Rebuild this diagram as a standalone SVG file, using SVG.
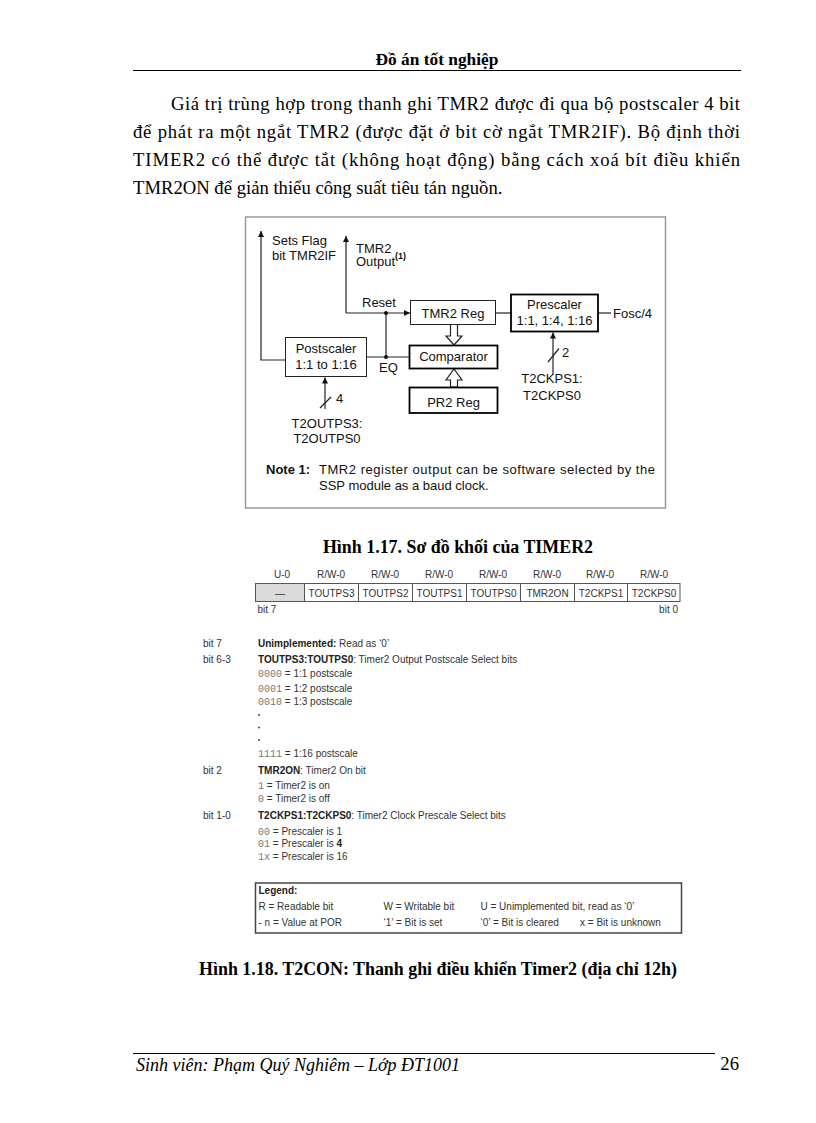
<svg xmlns="http://www.w3.org/2000/svg" width="816" height="1123" viewBox="0 0 816 1123">
<defs>
<style>
.t{font-family:"Liberation Serif","Times New Roman",serif;font-size:18.67px;fill:#000}
.tb{font-family:"Liberation Serif","Times New Roman",serif;font-size:17.33px;font-weight:bold;fill:#000}
.cap{font-size:17.9px}
.ti{font-family:"Liberation Serif","Times New Roman",serif;font-size:18px;font-style:italic;fill:#000}
.d{font-family:"Liberation Sans",Arial,sans-serif;font-size:13px;fill:#111}
.c{text-anchor:middle}
.r{font-family:"Liberation Sans",Arial,sans-serif;font-size:10px;fill:#333}
.m{font-family:"Liberation Mono","Courier New",monospace;font-size:10px;fill:#777}
.b{font-weight:bold;fill:#222}
.box{fill:#fff;stroke:#222;stroke-width:1}
.boxk{fill:#fff;stroke:#000;stroke-width:1.8}
.ln{fill:none;stroke:#222;stroke-width:1.2}
</style>
<marker id="ah" viewBox="0 0 10 10" refX="10" refY="5" markerWidth="7" markerHeight="6" markerUnits="userSpaceOnUse" orient="auto"><path d="M0,0 L10,5 L0,10 z" fill="#111"/></marker>
</defs>
<rect width="816" height="1123" fill="#fff"/>

<!-- header -->
<g id="header">
<text class="tb c" x="437" y="65">Đồ án tốt nghiệp</text>
<line x1="133" y1="70.5" x2="741" y2="70.5" stroke="#000" stroke-width="1.2"/>
</g>

<!-- paragraph -->
<g id="paragraph">
<text class="t" x="171" y="110" textLength="569" lengthAdjust="spacing">Giá trị trùng hợp trong thanh ghi TMR2 được đi qua bộ postscaler 4 bit</text>
<text class="t" x="133" y="138" textLength="607" lengthAdjust="spacing">để phát ra một ngắt TMR2 (được đặt ở bit cờ ngắt TMR2IF). Bộ định thời</text>
<text class="t" x="133" y="166" textLength="607" lengthAdjust="spacing">TIMER2 có thể được tắt (không hoạt động) bằng cách xoá bít điều khiển</text>
<text class="t" x="133" y="194">TMR2ON để giản thiểu công suất tiêu tán nguồn.</text>
</g>

<!-- figure frame -->
<rect id="frame" x="245.5" y="217" width="420" height="291" fill="none" stroke="#999" stroke-width="1.5"/>

<g id="connectors">
<path class="ln" d="M285,360 H261 V231" marker-end="url(#ah)"/>
<path class="ln" d="M346,313 V236" marker-end="url(#ah)"/>
<path class="ln" d="M346,313 H410" marker-end="url(#ah)"/>
<path class="ln" d="M386,313 V357"/>
<path class="ln" d="M367,357 H409"/>
<path class="ln" d="M496,313 H511"/>
<path class="ln" d="M598,313 H611"/>
<path class="ln" d="M325,409 V377.5" marker-end="url(#ah)"/>
<path class="ln" d="M320,408 L331,397"/>
<path class="ln" d="M553,375 V332.5" marker-end="url(#ah)"/>
<path class="ln" d="M548,362 L559,348.5"/>
<circle cx="386" cy="313" r="2" fill="#111"/>
<circle cx="386" cy="357" r="2" fill="#111"/>
<polygon points="450.5,324.5 457.5,324.5 457.5,336 462,336 454,345 446,336 450.5,336" fill="#fff" stroke="#222" stroke-width="1.2"/>
<polygon points="450.5,387 457.5,387 457.5,380 462,380 454,369 446,380 450.5,380" fill="#fff" stroke="#222" stroke-width="1.2"/>
</g>

<g id="lbl-setsflag">
<text class="d" x="272" y="245">Sets Flag</text>
<text class="d" x="272" y="260">bit TMR2IF</text>
</g>
<g id="lbl-output">
<text class="d" x="356" y="253">TMR2</text>
<text class="d" x="356" y="266">Output<tspan font-size="9" font-weight="bold" dy="-7">(1)</tspan></text>
</g>
<text class="d" x="362" y="307">Reset</text>
<text class="d" x="379" y="372">EQ</text>
<text class="d" x="613" y="318">Fosc/4</text>

<g id="tmr2reg">
<rect class="box" x="410.5" y="300.5" width="85" height="24"/>
<text class="d c" x="453" y="318">TMR2 Reg</text>
</g>
<g id="prescaler">
<rect class="boxk" x="511" y="294.5" width="87" height="37"/>
<text class="d c" x="554.5" y="308.5">Prescaler</text>
<text class="d c" x="554.5" y="325">1:1, 1:4, 1:16</text>
</g>
<g id="comparator">
<rect class="boxk" x="409.5" y="345.5" width="88" height="23"/>
<text class="d c" x="453.5" y="361">Comparator</text>
</g>
<g id="pr2reg">
<rect class="boxk" x="409.5" y="387.5" width="88" height="25.5"/>
<text class="d c" x="453.5" y="407">PR2 Reg</text>
</g>
<g id="postscaler">
<rect class="box" x="285.5" y="337.5" width="81" height="39"/>
<text class="d c" x="326" y="353">Postscaler</text>
<text class="d c" x="326" y="369">1:1 to 1:16</text>
</g>
<g id="lbl-4">
<text class="d" x="336" y="403">4</text>
<text class="d c" x="327" y="428">T2OUTPS3:</text>
<text class="d c" x="327" y="443">T2OUTPS0</text>
</g>
<g id="lbl-2">
<text class="d" x="562" y="357">2</text>
<text class="d c" x="552" y="383">T2CKPS1:</text>
<text class="d c" x="552" y="400">T2CKPS0</text>
</g>
<g id="note">
<text class="d" x="266" y="474" font-weight="bold">Note 1:</text>
<text class="d" x="319" y="474" textLength="336" lengthAdjust="spacing">TMR2 register output can be software selected by the</text>
<text class="d" x="319" y="490">SSP module as a baud clock.</text>
</g>

<text class="tb cap c" x="458" y="553">Hình 1.17. Sơ đồ khối của TIMER2</text>

<!-- register table -->
<g id="register">
<text class="r c" x="282" y="578">U-0</text>
<text class="r c" x="331" y="578">R/W-0</text>
<text class="r c" x="385" y="578">R/W-0</text>
<text class="r c" x="439" y="578">R/W-0</text>
<text class="r c" x="493" y="578">R/W-0</text>
<text class="r c" x="547" y="578">R/W-0</text>
<text class="r c" x="600" y="578">R/W-0</text>
<text class="r c" x="654" y="578">R/W-0</text>
<rect x="255.5" y="583.5" width="49" height="18" fill="#dadada"/>
<rect x="255.5" y="583.5" width="424.5" height="18" fill="none" stroke="#555" stroke-width="1"/>
<path d="M304.5,583.5 V601.5 M358.5,583.5 V601.5 M412.5,583.5 V601.5 M466.5,583.5 V601.5 M520.5,583.5 V601.5 M574.5,583.5 V601.5 M627.5,583.5 V601.5" stroke="#555" stroke-width="1" fill="none"/>
<text class="r c" x="280" y="597">—</text>
<text class="r c" x="331.5" y="596.5">TOUTPS3</text>
<text class="r c" x="385.5" y="596.5">TOUTPS2</text>
<text class="r c" x="439.5" y="596.5">TOUTPS1</text>
<text class="r c" x="493.5" y="596.5">TOUTPS0</text>
<text class="r c" x="547.5" y="596.5">TMR2ON</text>
<text class="r c" x="601" y="596.5">T2CKPS1</text>
<text class="r c" x="654" y="596.5">T2CKPS0</text>
<text class="r" x="257.5" y="613">bit 7</text>
<text class="r" x="678" y="613" text-anchor="end">bit 0</text>
</g>

<!-- bit descriptions -->
<g id="bits">
<text class="r" x="203" y="647">bit 7</text>
<text class="r" x="258" y="647"><tspan class="b">Unimplemented:</tspan> Read as ‘0’</text>
<text class="r" x="203" y="662.5">bit 6-3</text>
<text class="r" x="258" y="662.5"><tspan class="b">TOUTPS3:TOUTPS0</tspan>: Timer2 Output Postscale Select bits</text>
<text class="r" x="258" y="677"><tspan class="m">0000</tspan> = 1:1 postscale</text>
<text class="r" x="258" y="691.5"><tspan class="m">0001</tspan> = 1:2 postscale</text>
<text class="r" x="258" y="704.5"><tspan class="m">0010</tspan> = 1:3 postscale</text>
<circle cx="259" cy="715" r="1" fill="#444"/>
<circle cx="259" cy="727.5" r="1" fill="#444"/>
<circle cx="259" cy="740" r="1" fill="#444"/>
<text class="r" x="258" y="757"><tspan class="m">1111</tspan> = 1:16 postscale</text>
<text class="r" x="203" y="773.5">bit 2</text>
<text class="r" x="258" y="773.5"><tspan class="b">TMR2ON</tspan>: Timer2 On bit</text>
<text class="r" x="258" y="788.5"><tspan class="m">1</tspan> = Timer2 is on</text>
<text class="r" x="258" y="801.5"><tspan class="m">0</tspan> = Timer2 is off</text>
<text class="r" x="203" y="818.5">bit 1-0</text>
<text class="r" x="258" y="818.5"><tspan class="b">T2CKPS1:T2CKPS0</tspan>: Timer2 Clock Prescale Select bits</text>
<text class="r" x="258" y="834.5"><tspan class="m">00</tspan> = Prescaler is 1</text>
<text class="r" x="258" y="847"><tspan class="m">01</tspan> = Prescaler is <tspan class="b">4</tspan></text>
<text class="r" x="258" y="859.5"><tspan class="m">1x</tspan> = Prescaler is 16</text>
</g>

<!-- legend -->
<g id="legend">
<rect x="255.5" y="883" width="426" height="50" fill="#fff" stroke="#444" stroke-width="1.5"/>
<text class="r b" x="258.5" y="894">Legend:</text>
<text class="r" x="258.5" y="909.5">R = Readable bit</text>
<text class="r" x="383.5" y="909.5">W = Writable bit</text>
<text class="r" x="480.5" y="909.5">U = Unimplemented bit, read as ‘0’</text>
<text class="r" x="258.5" y="926">- n = Value at POR</text>
<text class="r" x="383.5" y="926">‘1’ = Bit is set</text>
<text class="r" x="480.5" y="926">‘0’ = Bit is cleared</text>
<text class="r" x="580" y="926">x = Bit is unknown</text>
</g>

<text class="tb cap c" x="438" y="975">Hình 1.18. T2CON: Thanh ghi điều khiển Timer2 (địa chỉ 12h)</text>

<!-- footer -->
<g id="footer">
<line x1="133" y1="1053.5" x2="715" y2="1053.5" stroke="#000" stroke-width="1.2"/>
<text class="ti" x="136" y="1071">Sinh viên: Phạm Quý Nghiêm – Lớp ĐT1001</text>
<text class="t" x="739" y="1070" text-anchor="end" font-size="18">26</text>
</g>
</svg>
